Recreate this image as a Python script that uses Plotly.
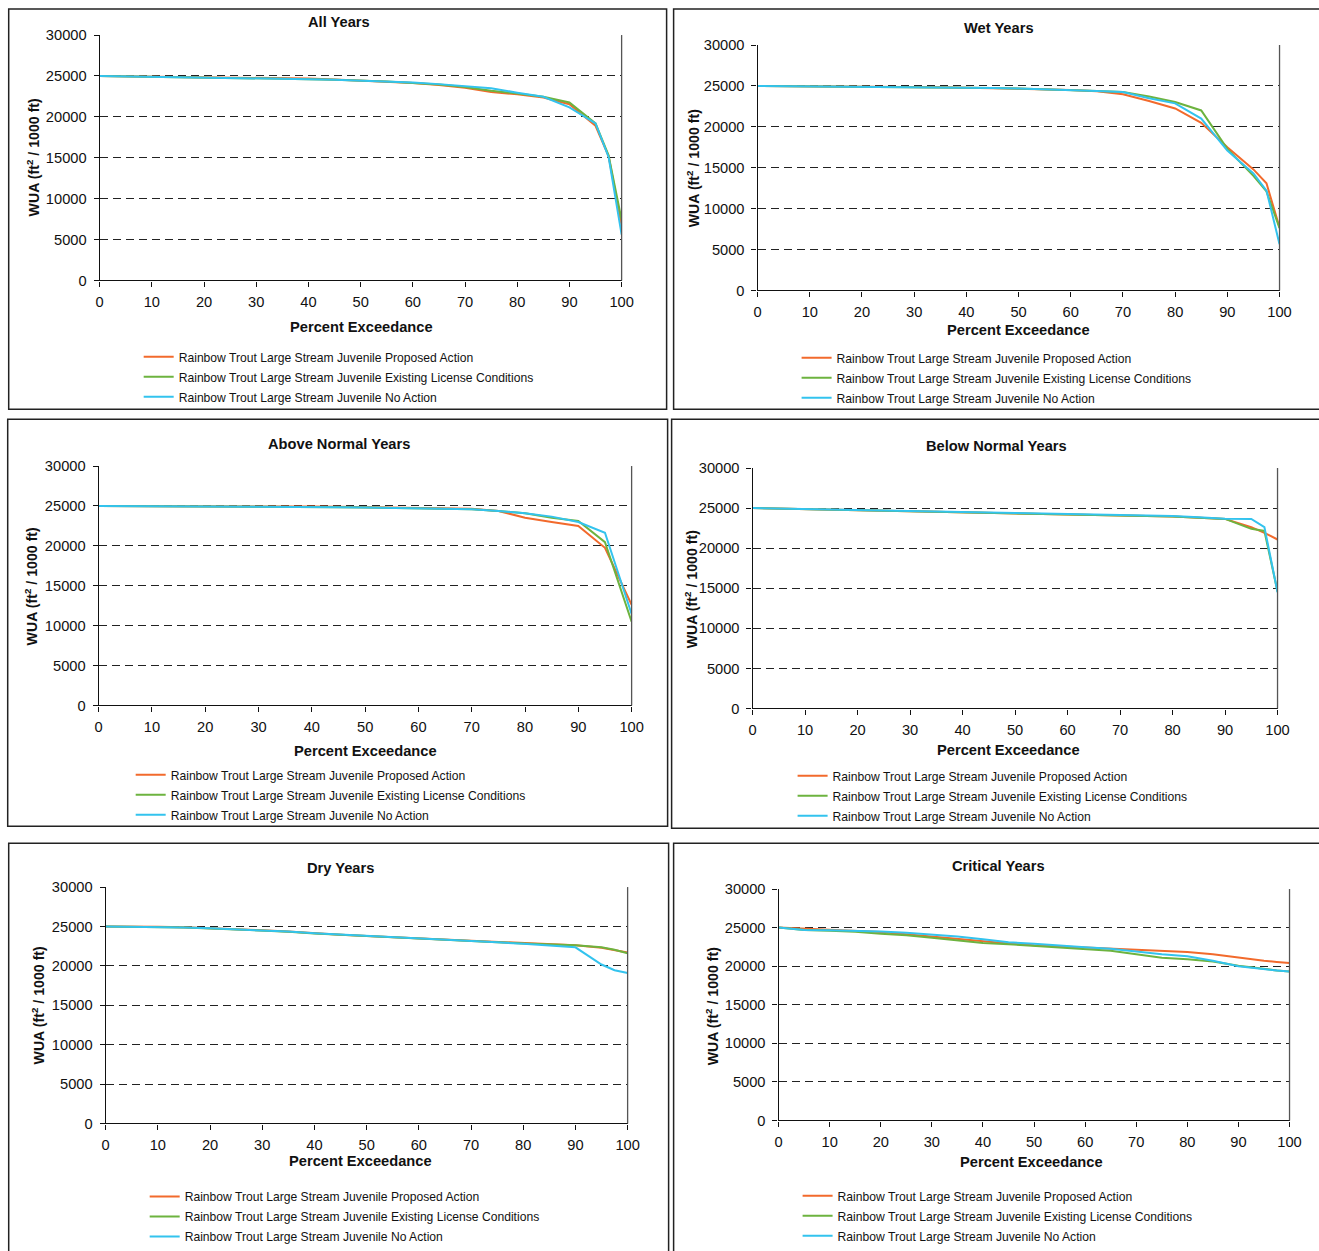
import plotly.graph_objects as go

W, H = 1319, 1251

# ---------------- data ----------------
PCT = [0, 5, 10, 15, 20, 25, 30, 35, 40, 45, 50, 55, 60, 65, 70, 75, 80, 85, 90, 95, 97.5, 100]

SERIES_NAMES = [
    "Rainbow Trout Large Stream Juvenile Proposed Action",
    "Rainbow Trout Large Stream Juvenile Existing License Conditions",
    "Rainbow Trout Large Stream Juvenile No Action",
]
SERIES_COLORS = ["#F26A2C", "#6DB33F", "#33C3EE"]

PANEL_TITLES = ["All Years", "Wet Years", "Above Normal Years",
                "Below Normal Years", "Dry Years", "Critical Years"]

X_TICKS = [0, 10, 20, 30, 40, 50, 60, 70, 80, 90, 100]
Y_TICKS = [0, 5000, 10000, 15000, 20000, 25000, 30000]
Y_TICK_LABELS = ["0", "5000", "10000", "15000", "20000", "25000", "30000"]

ALL_PROPOSED = [25000, 24970, 24940, 24910, 24880, 24850, 24810, 24760, 24680, 24580, 24450, 24330,
                24150, 23900, 23550, 23050, 22750, 22350, 21550, 18900, 15200, 6700]
ALL_EXISTING = [25000, 24960, 24920, 24880, 24840, 24790, 24730, 24670, 24600, 24520, 24430, 24330,
                24150, 23950, 23650, 23200, 22850, 22450, 21750, 19200, 15300, 7400]
ALL_NOACTION = [25000, 24960, 24920, 24880, 24840, 24790, 24730, 24670, 24600, 24520, 24430, 24330,
                24200, 24000, 23750, 23500, 22950, 22450, 21150, 19200, 15100, 5600]

WET_PROPOSED = [25000, 24990, 24970, 24950, 24930, 24910, 24880, 24840, 24790, 24740, 24670, 24600,
                24500, 24350, 23980, 23150, 22250, 20480, 17500, 14800, 13100, 7700]
WET_EXISTING = [25000, 24980, 24960, 24940, 24920, 24890, 24860, 24820, 24780, 24730, 24670, 24600,
                24500, 24380, 24260, 23700, 23030, 22000, 17300, 14000, 12100, 7600]
WET_NOACTION = [25000, 24980, 24960, 24940, 24920, 24890, 24860, 24820, 24780, 24730, 24670, 24600,
                24500, 24380, 24250, 23500, 22870, 21000, 17100, 14300, 12200, 5650]

AN_PROPOSED = [25000, 25000, 24990, 24990, 24980, 24970, 24960, 24940, 24920, 24890, 24860, 24830,
               24800, 24730, 24650, 24370, 23530, 22980, 22480, 19750, 16200, 12610]
AN_EXISTING = [25000, 24990, 24980, 24970, 24950, 24930, 24910, 24890, 24860, 24830, 24790, 24740,
               24680, 24630, 24580, 24370, 24070, 23530, 23110, 20460, 15500, 10500]
AN_NOACTION = [25000, 24990, 24980, 24970, 24950, 24930, 24910, 24890, 24860, 24830, 24790, 24740,
               24680, 24630, 24580, 24370, 24070, 23660, 22980, 21640, 16500, 11470]

BN_PROPOSED = [25000, 24950, 24900, 24830, 24760, 24680, 24600, 24530, 24460, 24400, 24340, 24280,
               24220, 24170, 24120, 24050, 23950, 23800, 23650, 22620, 21910, 21080]
BN_EXISTING = [25000, 24950, 24900, 24830, 24760, 24680, 24600, 24530, 24460, 24400, 24340, 24280,
               24220, 24170, 24120, 24050, 23950, 23800, 23650, 22410, 22150, 14600]
BN_NOACTION = [25000, 24950, 24900, 24850, 24800, 24730, 24660, 24590, 24520, 24460, 24400, 24340,
               24280, 24230, 24180, 24100, 24000, 23850, 23680, 23650, 22620, 14500]

DRY_PROPOSED = [25000, 25000, 24970, 24900, 24800, 24680, 24520, 24350, 24130, 23960, 23790, 23640,
                23430, 23270, 23130, 23000, 22850, 22720, 22600, 22300, 22000, 21700]
DRY_EXISTING = [25000, 24980, 24930, 24860, 24750, 24620, 24480, 24330, 24120, 23950, 23780, 23640,
                23420, 23270, 23130, 23000, 22850, 22700, 22600, 22350, 22050, 21600]
DRY_NOACTION = [25000, 24980, 24930, 24860, 24760, 24640, 24500, 24350, 24150, 23970, 23800, 23650,
                23430, 23270, 23120, 22980, 22820, 22620, 22350, 20170, 19440, 19100]

CRIT_PROPOSED = [25000, 24850, 24750, 24600, 24420, 24150, 23850, 23550, 23200, 22950, 22700, 22550,
                 22400, 22250, 22120, 21920, 21830, 21550, 21100, 20700, 20550, 20400]
CRIT_EXISTING = [25000, 24700, 24600, 24450, 24200, 24000, 23700, 23350, 23000, 22850, 22650, 22450,
                 22250, 22000, 21550, 21100, 20900, 20600, 20050, 19600, 19450, 19300]
CRIT_NOACTION = [25000, 24700, 24650, 24580, 24500, 24320, 24100, 23850, 23500, 23100, 22900, 22650,
                 22450, 22250, 21900, 21550, 21300, 20700, 20000, 19600, 19450, 19300]

PANEL_DATA = [
    (ALL_PROPOSED, ALL_EXISTING, ALL_NOACTION),
    (WET_PROPOSED, WET_EXISTING, WET_NOACTION),
    (AN_PROPOSED, AN_EXISTING, AN_NOACTION),
    (BN_PROPOSED, BN_EXISTING, BN_NOACTION),
    (DRY_PROPOSED, DRY_EXISTING, DRY_NOACTION),
    (CRIT_PROPOSED, CRIT_EXISTING, CRIT_NOACTION),
]

# ---------------- layout geometry (pixels as seen in the picture) ----------------
PLOT_BOX = [            # x0, x1, ytop, ybottom
    (99, 621, 35, 281),
    (757, 1279, 45, 291),
    (98, 631, 467, 707),
    (752, 1277, 469, 710),
    (105, 627, 889, 1126),
    (778, 1289, 891, 1123),
]
FRAME = [               # x0, x1, y0, y1
    (8, 666, 5, 410),
    (673, 1335, 5, 410),
    (7, 667, 420, 828),
    (671, 1335, 420, 830),
    (8, 668, 845, 1270),
    (673, 1335, 845, 1270),
]
TITLE_POS = [(338, 22), (998, 28), (338, 445), (996, 447), (340, 870), (998, 868)]
XTITLE_POS = [(361, 328), (1018, 331), (365, 753), (1008, 752), (360, 1164), (1031, 1165)]
YTITLE_POS = [(32, 157), (692, 168), (30, 587), (690, 590), (37, 1007), (711, 1008)]
LEGEND_POS = [(178, 356), (836, 357), (170, 775), (832, 776), (184, 1198), (837, 1197)]

FONT = "Liberation Sans, Arial, Helvetica, sans-serif"

# the page is photographed slightly scaled/offset; compensate
SX, OX = 0.988, 3.3
SY, OY = 0.9767, 7.90


def px(p):
    return (p - OX) / SX


def py(p):
    return max((p - OY) / SY, 1.0)


def fx(p):
    return px(p) / W


def fy(p):
    return 1 - py(p) / H


def fs(size):
    return size / SX


fig = go.Figure()
shapes = []
annotations = []

for i, (series, box) in enumerate(zip(PANEL_DATA, PLOT_BOX)):
    n = i + 1
    xa = "x" if n == 1 else f"x{n}"
    ya = "y" if n == 1 else f"y{n}"
    lg = "legend" if n == 1 else f"legend{n}"
    for k, (name, color, vals) in enumerate(zip(SERIES_NAMES, SERIES_COLORS, series)):
        fig.add_trace(go.Scatter(
            x=PCT, y=vals, mode="lines", name=name,
            line=dict(color=color, width=2),
            xaxis=xa, yaxis=ya, legend=lg, showlegend=True,
            legendgroup=f"p{n}s{k}", hoverinfo="skip",
        ))
    x0, x1, yt, yb = box
    axis_common = dict(
        showline=True, linecolor="#111", linewidth=1.3,
        ticks="outside", ticklen=5, tickwidth=1, tickcolor="#111",
        tickfont=dict(family=FONT, size=fs(14.5), color="#111"),
        zeroline=False, fixedrange=True,
    )
    fig.update_layout(**{
        ("xaxis" if n == 1 else f"xaxis{n}"): dict(
            domain=[fx(x0), fx(x1)], range=[0, 100], tickvals=X_TICKS,
            ticktext=[str(t) for t in X_TICKS],
            anchor=ya, showgrid=False, ticklabelstandoff=3, **axis_common),
        ("yaxis" if n == 1 else f"yaxis{n}"): dict(
            domain=[fy(yb), fy(yt)], range=[0, 30000], tickvals=Y_TICKS,
            ticktext=Y_TICK_LABELS,
            anchor=xa, showgrid=True, gridcolor="#222", gridwidth=1,
            griddash="8px,5px", ticklabelstandoff=4, **axis_common),
        lg: dict(
            x=fx(LEGEND_POS[i][0] - 40), y=fy(LEGEND_POS[i][1] - 13),
            xanchor="left", yanchor="top", bgcolor="rgba(0,0,0,0)",
            borderwidth=0, font=dict(family=FONT, size=fs(12), color="#111"),
            traceorder="grouped", tracegroupgap=1,
            itemclick=False, itemdoubleclick=False,
        ),
    })
    shapes.append(dict(type="line", xref=f"{xa} domain", yref=f"{ya} domain",
                       x0=1, x1=1, y0=0, y1=1, line=dict(color="#555", width=1.3)))
    fx0, fx1, fy0, fy1 = FRAME[i]
    shapes.append(dict(type="rect", xref="paper", yref="paper",
                       x0=fx(fx0), x1=fx(fx1), y0=fy(fy1), y1=fy(fy0),
                       line=dict(color="#222", width=1.5), fillcolor="rgba(0,0,0,0)",
                       layer="below"))
    annotations.append(dict(text=f"<b>{PANEL_TITLES[i]}</b>", xref="paper", yref="paper",
                            x=fx(TITLE_POS[i][0]), y=fy(TITLE_POS[i][1]),
                            xanchor="center", yanchor="middle", showarrow=False,
                            font=dict(family=FONT, size=fs(14.5), color="#111")))
    annotations.append(dict(text="<b>Percent Exceedance</b>", xref="paper", yref="paper",
                            x=fx(XTITLE_POS[i][0]), y=fy(XTITLE_POS[i][1]),
                            xanchor="center", yanchor="middle", showarrow=False,
                            font=dict(family=FONT, size=fs(14.5), color="#111")))
    annotations.append(dict(text="<b>WUA (ft<sup>2</sup> / 1000 ft)</b>", xref="paper", yref="paper",
                            x=fx(YTITLE_POS[i][0]), y=fy(YTITLE_POS[i][1]),
                            xanchor="center", yanchor="middle", showarrow=False, textangle=-90,
                            font=dict(family=FONT, size=fs(14), color="#111")))

fig.update_layout(
    width=W, height=H, autosize=False,
    margin=dict(l=0, r=0, t=0, b=0),
    paper_bgcolor="white", plot_bgcolor="white",
    shapes=shapes, annotations=annotations,
    font=dict(family=FONT, color="#111"),
)

fig.write_html(
    "out.html",
    config={"displayModeBar": False},
    post_script="document.body.style.margin='0';document.body.style.padding='0';"
                "document.documentElement.style.overflow='hidden';",
)
